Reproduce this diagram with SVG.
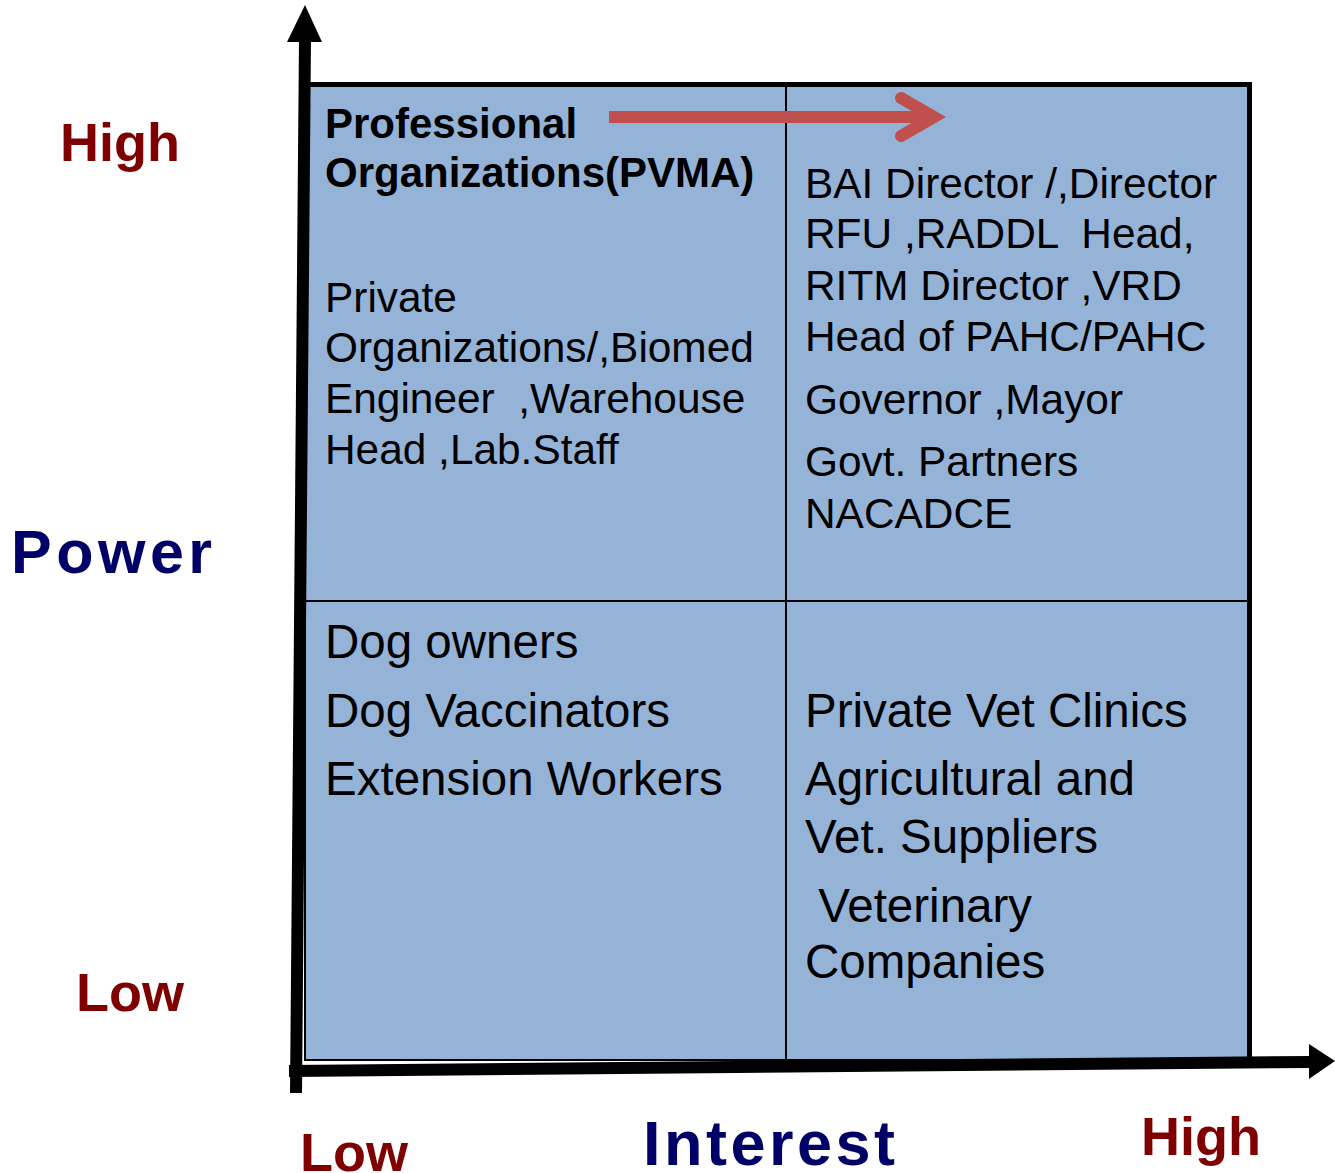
<svg xmlns="http://www.w3.org/2000/svg" width="1335" height="1173" viewBox="0 0 1335 1173">
<style>
text{font-family:"Liberation Sans",Arial,sans-serif;}
.lvl{fill:#7f0000;font-weight:bold;font-size:54px;}
.ax{fill:#000066;font-weight:bold;}
.b42{font-size:42.4px;fill:#000;}
.b47{font-size:47.5px;fill:#000;}
.bold{font-weight:bold;font-size:42px;}
.grid{stroke:#000;stroke-width:2;fill:none;}
</style>
<rect width="1335" height="1173" fill="#fff"/>
<g id="matrix">
<rect x="305" y="85" width="944" height="975" fill="#95b3d7" stroke="#000" stroke-width="2"/>
<line class="grid" x1="786" y1="85" x2="786" y2="1060"/>
<line class="grid" x1="305" y1="601" x2="1249" y2="601"/>
<line x1="305" y1="84.5" x2="1252" y2="84.5" stroke="#000" stroke-width="5"/>
<line x1="1249.5" y1="82" x2="1249.5" y2="1062" stroke="#000" stroke-width="5"/>
</g>
<g id="connectors">
<line x1="305" y1="38" x2="296" y2="1093" stroke="#000" stroke-width="12"/>
<polygon points="287,42 305,5 322,42" fill="#000"/>
<line x1="289" y1="1071" x2="1312" y2="1062" stroke="#000" stroke-width="12"/>
<polygon points="1309,1044 1335,1061 1309,1079" fill="#000"/>
<g id="shift-arrow" stroke="#c0504d" stroke-width="12" fill="none">
<line x1="609" y1="117" x2="930" y2="117"/>
<polyline points="901,98 934,117 901,136" stroke-linecap="round" stroke-linejoin="miter"/>
</g>
</g>
<g id="axis-labels">
<text class="lvl" x="60" y="161" font-size="55">High</text>
<text class="ax" x="11" y="573" font-size="61" letter-spacing="4.5">Power</text>
<text class="lvl" x="76" y="1011">Low</text>
<text class="lvl" x="300" y="1171">Low</text>
<text class="ax" x="643" y="1165" font-size="63" letter-spacing="3.5">Interest</text>
<text class="lvl" x="1141" y="1155" font-size="55">High</text>
</g>
<g id="q-high-low">
<text class="b42 bold" x="325" y="138">Professional</text>
<text class="b42 bold" x="325" y="187">Organizations(PVMA)</text>
<text class="b42" x="325" y="312">Private</text>
<text class="b42" x="325" y="362">Organizations/,Biomed</text>
<text class="b42" x="325" y="413" xml:space="preserve">Engineer  ,Warehouse</text>
<text class="b42" x="325" y="464">Head ,Lab.Staff</text>
</g>
<g id="q-high-high">
<text class="b42" x="805" y="198">BAI Director /,Director</text>
<text class="b42" x="805" y="248" xml:space="preserve">RFU ,RADDL  Head,</text>
<text class="b42" x="805" y="300">RITM Director ,VRD</text>
<text class="b42" x="805" y="351">Head of PAHC/PAHC</text>
<text class="b42" x="805" y="414">Governor ,Mayor</text>
<text class="b42" x="805" y="476">Govt. Partners</text>
<text class="b42" x="805" y="528">NACADCE</text>
</g>
<g id="q-low-low">
<text class="b47" x="325" y="658">Dog owners</text>
<text class="b47" x="325" y="727">Dog Vaccinators</text>
<text class="b47" x="325" y="795">Extension Workers</text>
</g>
<g id="q-low-high">
<text class="b47" x="805" y="727">Private Vet Clinics</text>
<text class="b47" x="805" y="795">Agricultural and</text>
<text class="b47" x="805" y="853">Vet. Suppliers</text>
<text class="b47" x="805" y="922" xml:space="preserve"> Veterinary</text>
<text class="b47" x="805" y="978">Companies</text>
</g>
</svg>
